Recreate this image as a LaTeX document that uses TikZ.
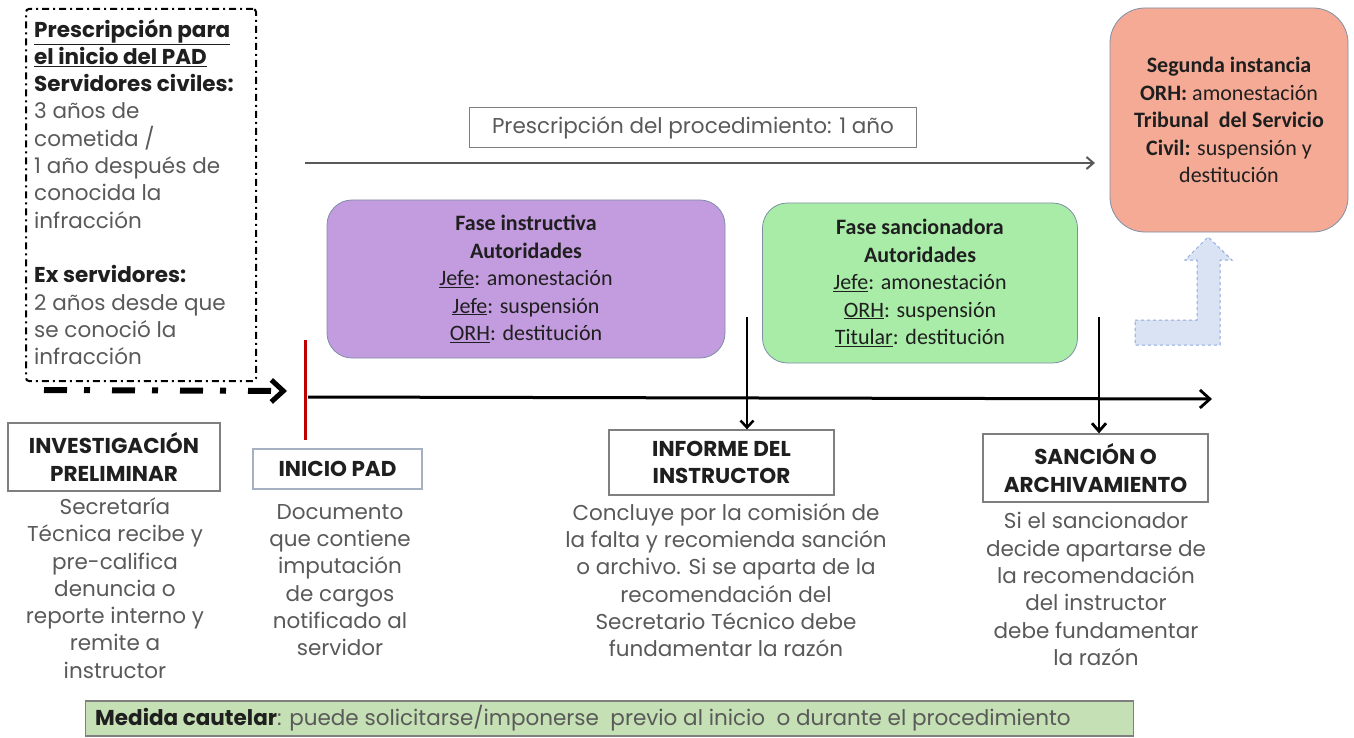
\documentclass[tikz,border=0pt]{standalone}
\usepackage{fontspec}
\setmainfont{Poppins}
\newfontfamily\calib{Carlito}
\usetikzlibrary{arrows.meta}
\definecolor{txtgray}{HTML}{595959}
\definecolor{dark}{HTML}{1F1F1F}
\definecolor{purplefill}{HTML}{C39BDF}
\definecolor{greenfill}{HTML}{A8ECA8}
\definecolor{salmonfill}{HTML}{F4AA95}
\definecolor{bluefill}{HTML}{DAE3F3}
\definecolor{blueline}{HTML}{8FAADC}
\definecolor{boxline}{HTML}{7F8FA6}
\definecolor{redline}{HTML}{C00000}
\definecolor{barfill}{HTML}{C5E0B4}
\definecolor{graybox}{HTML}{7F7F7F}
\newcommand\cgf{\fontsize{21.5}{27.3}\selectfont}
\newcommand\cbf{\fontsize{22}{27.4}\selectfont\calib}
\begin{document}
\begin{tikzpicture}[x=1pt,y=-1pt,
  desc/.style={align=center,font=\cgf,text=txtgray,inner sep=0pt},
  labelbox/.style={draw=graybox,line width=1.3pt,align=center,font=\cgf\bfseries,text=dark,inner sep=0pt},
  phasebox/.style={draw=boxline,line width=0.8pt,rounded corners=25pt,align=center,font=\cbf,text=dark,inner sep=0pt}
]
\useasboundingbox (0,0) rectangle (1354,738);

% top-left prescription box
\node[draw=black,line width=2pt,dash pattern=on 7pt off 4pt on 2pt off 4pt,rounded corners=3pt,
      minimum width=230pt,minimum height=372pt,anchor=north west,inner sep=0pt] (presbox) at (25,8) {};
\node[anchor=west,align=left,font=\cgf,text=txtgray,inner sep=0pt] (prestext) at (34,192)
  {\textcolor{dark}{\bfseries\underline{Prescripción para}}\\
   \textcolor{dark}{\bfseries\underline{el inicio del PAD}}\\
   \textcolor{dark}{\bfseries Servidores civiles:}\\
   3 años de\\ cometida /\\ 1 año después de\\ conocida la\\ infracción\\[27.3pt]
   \textcolor{dark}{\bfseries Ex servidores:}\\
   2 años desde que\\ se conoció la\\ infracción};

% thick dash-dot arrow
\coordinate (dstart) at (44,390);
\coordinate (dend) at (287,391);
\draw[line width=6pt,dash pattern=on 23pt off 17pt on 6pt off 22pt,
      -{Straight Barb[length=12pt,width=22pt,line width=5pt]}] (dstart) -- (dend);

% red start line
\coordinate (rtop) at (305,340);
\coordinate (rbot) at (305,440);
\draw[redline,line width=3pt] (rtop) -- (rbot);

% main time line
\coordinate (mstart) at (308,397);
\coordinate (mend) at (1212,399);
\draw[line width=3pt,-{Straight Barb[length=10pt,width=18pt,line width=2.8pt]}] (mstart) -- (mend);

% procedure prescription
\node[draw=graybox,line width=1pt,minimum width=447pt,minimum height=40pt,font=\cgf,text=txtgray,inner sep=0pt]
  (proc) at (693,128) {Prescripción del procedimiento: 1 año};
\coordinate (pstart) at (305,163);
\coordinate (pend) at (1095,163);
\draw[line width=2pt,color=txtgray,-{Straight Barb[length=7pt,width=12pt,line width=2pt]}] (pstart) -- (pend);

% phase boxes
\node[phasebox,fill=purplefill,minimum width=398pt,minimum height=158pt] (instr) at (526,279)
  {\bfseries Fase instructiva\\ \bfseries Autoridades\\
   \underline{Jefe}: amonestación\\ \underline{Jefe}: suspensión\\ \underline{ORH}: destitución};
\node[phasebox,fill=greenfill,minimum width=315pt,minimum height=160pt] (sanc) at (920,283)
  {\bfseries Fase sancionadora\\ \bfseries Autoridades\\
   \underline{Jefe}: amonestación\\ \underline{ORH}: suspensión\\ \underline{Titular}: destitución};

% second instance
\node[phasebox,fill=salmonfill,rounded corners=35pt,minimum width=238pt,minimum height=224pt] (segunda) at (1229,120)
  {\bfseries Segunda instancia\\ \textbf{ORH:} amonestación\\ \bfseries Tribunal\ \ del Servicio\\
   \textbf{Civil:} suspensión y\\ destitución};

% bent up arrow
\draw[fill=bluefill,draw=blueline,line width=1pt,dashed]
  (1135,320) -- (1197,320) -- (1197,260) -- (1185,260) -- (1208,237) -- (1232,260) -- (1220,260)
  -- (1220,345) -- (1135,345) -- cycle;

% milestone label boxes
\node[labelbox,minimum width=212pt,minimum height=68pt] (invest) at (114,457) {INVESTIGACIÓN\\PRELIMINAR};
\node[labelbox,draw=boxline!70,minimum width=169pt,minimum height=40pt] (inicio) at (337.5,469) {INICIO PAD};
\node[labelbox,minimum width=225pt,minimum height=65pt] (informe) at (721.5,462.5) {INFORME DEL\\INSTRUCTOR};
\node[labelbox,minimum width=225pt,minimum height=68pt] (sancion) at (1095.5,468) {SANCIÓN O\\ARCHIVAMIENTO};

% down arrows
\coordinate (a1) at (747,317);
\coordinate (a2) at (1099,317);
\draw[line width=2.5pt,-{Straight Barb[length=7pt,width=13pt,line width=2.5pt]}] (a1) -- (a1 |- informe.north);
\draw[line width=2.8pt,-{Straight Barb[length=8pt,width=14pt,line width=2.8pt]}] (a2) -- (a2 |- sancion.north);

% descriptions
\node[desc] (d1) at (115,588) {Secretaría\\Técnica recibe y\\pre-califica\\denuncia o\\reporte interno y\\remite a\\instructor};
\node[desc] (d2) at (340,580) {Documento\\que contiene\\imputación\\de cargos\\notificado al\\servidor};
\node[desc] (d3) at (726,580) {Concluye por la comisión de\\la falta y recomienda sanción\\o archivo. Si se aparta de la\\recomendación del\\Secretario Técnico debe\\fundamentar la razón};
\node[desc] (d4) at (1096,589) {Si el sancionador\\decide apartarse de\\la recomendación\\del instructor\\debe fundamentar\\la razón};

% bottom bar
\node[draw=graybox,line width=1.2pt,fill=barfill,minimum width=1048pt,minimum height=35pt,anchor=west,inner sep=0pt] (bar) at (85,718.5) {};
\node[anchor=west,font=\cgf,text=txtgray,inner sep=0pt] (bartext) at (95,718.5)
  {\textcolor{dark}{\bfseries Medida cautelar}: puede solicitarse/imponerse\ \ previo al inicio\ \ o durante el procedimiento};
\end{tikzpicture}
\end{document}
